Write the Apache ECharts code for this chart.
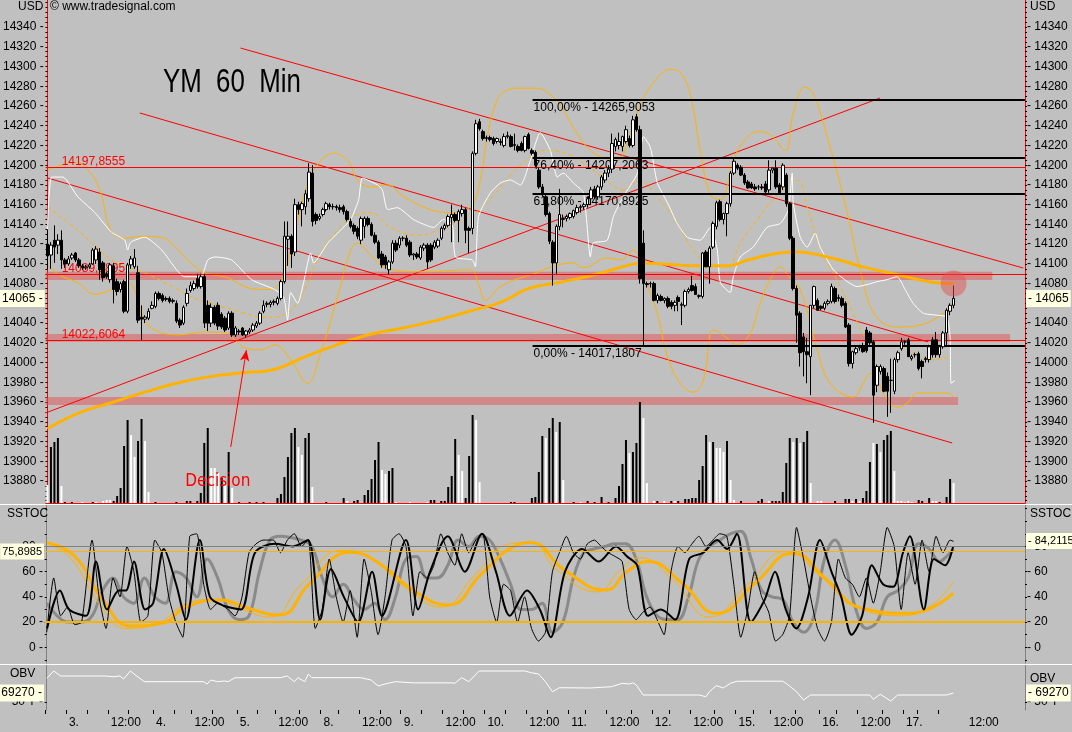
<!DOCTYPE html>
<html><head><meta charset="utf-8">
<script src="https://cdn.jsdelivr.net/npm/echarts@6/dist/echarts.min.js"></script>
<style>html,body{margin:0;padding:0;background:#c0c0c0}#c{width:1072px;height:732px}</style>
</head><body><div id="c"></div>
<script>
// ---------- DATA ----------
const N = 281; // time slots (bars + empty future)
const openP = [14120,14109,14124,14119,14124,14104,14100,14106,14111,14104,
14098,14096,14097,14100,14104,14112,14101,14090,14084,14098,
14082,14074,14082,14052,14099,14097,14091,14046,14044,14045,
14055,14057,14070,14068,14064,14065,14062,14060,14043,14040,
14060,14073,14075,14085,14077,14087,14058,14040,14056,14058,
14049,14045,14035,14050,14028,14032,14035,14028,14031,14033,
14037,14040,14052,14059,14059,14061,14060,14065,14082,14125,
14128,14112,14160,14155,14158,14166,14192,14150,14146,14150,
14155,14160,14158,14158,14157,14158,14153,14143,14139,14136,
14124,14138,14146,14140,14129,14122,14110,14107,14094,14102,
14121,14119,14126,14126,14122,14109,14110,14106,14116,14119,
14119,14117,14118,14126,14136,14139,14147,14150,14144,14151,
14155,14136,14136,14212,14244,14234,14227,14228,14227,14224,
14224,14220,14229,14229,14220,14219,14222,14215,14231,14215,
14213,14195,14178,14168,14151,14122,14101,14138,14145,14146,
14147,14148,14152,14157,14158,14160,14166,14176,14168,14178,
14185,14192,14196,14219,14220,14219,14224,14227,14220,14249,
14236,14121,14080,14080,14080,14063,14067,14063,14065,14061,
14058,14066,14058,14058,14072,14078,14077,14067,14067,14112,
14097,14117,14138,14163,14145,14151,14161,14192,14200,14198,
14190,14183,14181,14178,14178,14178,14181,14175,14195,14197,
14180,14178,14190,14161,14126,14075,14050,14026,14011,14006,
14058,14063,14057,14055,14060,14062,14075,14066,14065,14060,
14038,13999,14010,14015,14016,14033,14030,14021,13977,13991,
13994,13986,13982,13971,14003,14014,14021,14023,14004,14008,
14009,14001,14004,14003,14023,14023,14008,14016,14030,14052,
14058];
const highP = [14135,14122,14139,14130,14134,14106,14108,14111,14112,14106,
14100,14099,14101,14116,14118,14116,14103,14092,14101,14101,
14085,14082,14084,14101,14108,14115,14098,14058,14048,14055,
14062,14072,14072,14070,14067,14067,14065,14063,14045,14058,
14075,14082,14083,14090,14090,14090,14063,14060,14058,14061,
14051,14047,14052,14052,14037,14034,14036,14033,14035,14040,
14042,14052,14063,14062,14063,14064,14067,14084,14143,14143,
14130,14166,14163,14163,14175,14202,14200,14152,14151,14157,
14163,14162,14161,14160,14160,14160,14155,14146,14141,14138,
14148,14148,14148,14142,14132,14124,14113,14109,14104,14124,
14124,14128,14128,14129,14124,14111,14112,14119,14121,14121,
14121,14124,14126,14138,14141,14150,14160,14152,14155,14160,
14157,14138,14214,14246,14247,14236,14230,14230,14229,14228,
14227,14232,14234,14231,14232,14221,14224,14230,14233,14217,
14215,14198,14181,14170,14153,14124,14140,14176,14150,14150,
14152,14155,14160,14160,14162,14168,14178,14179,14180,14190,
14195,14200,14232,14228,14233,14230,14240,14230,14250,14252,
14240,14134,14082,14082,14082,14070,14069,14066,14067,14063,
14063,14068,14061,14074,14076,14088,14080,14069,14112,14114,
14118,14143,14164,14165,14152,14163,14194,14207,14202,14200,
14192,14185,14183,14181,14180,14181,14184,14205,14198,14205,
14182,14202,14192,14163,14128,14078,14052,14030,14025,14058,
14078,14065,14058,14062,14064,14080,14077,14069,14067,14062,
14040,14012,14016,14018,14020,14036,14032,14023,13998,13998,
13996,13990,14004,14005,14012,14025,14023,14025,14008,14010,
14011,14003,14006,14018,14026,14031,14018,14032,14055,14060,
14078];
const lowP = [14095,14095,14101,14110,14095,14096,14098,14104,14102,14096,
14094,14094,14095,14099,14100,14084,14082,14085,14081,14060,
14068,14071,14050,14050,14095,14095,14040,14023,14040,14043,
14054,14055,14063,14061,14062,14060,14060,14040,14035,14038,
14057,14071,14073,14075,14075,14035,14032,14036,14038,14033,
14034,14031,14033,14026,14026,14028,14027,14025,14029,14031,
14035,14038,14050,14056,14056,14058,14058,14063,14080,14098,
14096,14108,14150,14138,14150,14163,14138,14140,14144,14148,
14153,14155,14155,14154,14152,14150,14143,14136,14130,14125,
14120,14126,14138,14128,14120,14105,14096,14095,14089,14100,
14112,14116,14123,14117,14107,14104,14105,14104,14113,14095,
14102,14115,14116,14124,14134,14137,14122,14142,14122,14148,
14121,14111,14130,14210,14235,14225,14224,14224,14220,14222,
14220,14218,14227,14218,14215,14213,14214,14213,14216,14210,
14198,14176,14168,14148,14120,14078,14090,14134,14137,14143,
14145,14146,14150,14152,14155,14157,14160,14166,14165,14175,
14182,14188,14192,14214,14216,14214,14222,14218,14218,14234,
14080,14016,14076,14076,14062,14060,14062,14060,14055,14054,
14052,14052,14038,14056,14070,14072,14069,14065,14065,14097,
14080,14115,14135,14143,14140,14128,14158,14190,14195,14189,
14180,14176,14176,14174,14175,14175,14170,14172,14192,14176,
14170,14175,14158,14124,14073,14020,13996,13986,13979,13967,
14055,14053,14053,14053,14058,14060,14060,14062,14056,14035,
13996,13994,14008,14012,14010,14010,14018,13939,13970,13988,
13970,13945,13949,13968,14000,14012,14018,14006,14002,14005,
13992,13984,14000,14000,14005,14005,14005,14014,14016,14048,
14055];
const closeP = [14108,14119,14117,14124,14104,14100,14105,14109,14104,14098,
14096,14097,14099,14114,14115,14094,14086,14087,14099,14074,
14072,14080,14052,14099,14105,14106,14043,14044,14046,14052,
14058,14070,14065,14063,14065,14062,14063,14042,14038,14056,
14070,14078,14080,14077,14087,14040,14040,14056,14040,14037,
14036,14033,14050,14028,14035,14031,14028,14032,14033,14038,
14040,14050,14058,14060,14061,14062,14065,14082,14128,14128,
14110,14160,14155,14161,14171,14193,14143,14144,14148,14155,
14161,14158,14158,14157,14155,14153,14145,14138,14133,14128,
14146,14146,14140,14129,14122,14106,14099,14099,14102,14121,
14114,14126,14126,14119,14109,14110,14107,14117,14119,14102,
14104,14122,14124,14136,14139,14148,14150,14144,14153,14155,
14134,14134,14212,14242,14237,14227,14228,14226,14222,14227,
14223,14229,14230,14219,14221,14215,14215,14229,14217,14212,
14200,14178,14170,14150,14123,14101,14138,14150,14146,14148,
14151,14154,14157,14158,14160,14166,14175,14168,14178,14188,
14192,14196,14222,14226,14224,14229,14236,14220,14246,14236,
14085,14080,14079,14080,14063,14068,14063,14065,14057,14057,
14061,14062,14059,14072,14074,14073,14069,14068,14111,14097,
14116,14141,14162,14145,14151,14161,14192,14204,14197,14190,
14182,14177,14177,14176,14178,14177,14173,14195,14197,14178,
14172,14200,14161,14126,14075,14048,14010,14011,14008,14058,
14077,14053,14055,14060,14062,14077,14062,14065,14058,14036,
13999,14011,14014,14016,14011,14012,14020,13967,13996,13996,
13971,13971,13982,14003,14010,14021,14021,14006,14006,14008,
13994,13996,14003,14016,14008,14008,14016,14030,14053,14058,
14065];
const volume = [4500,14000,15250,16250,4250,250,0,250,0,0,
250,0,0,250,250,0,500,750,750,500,
1750,3750,14250,20750,17000,11500,15500,21000,15500,2750,
0,250,0,0,0,0,0,250,0,0,
500,500,0,500,2500,15000,18750,8750,8750,7500,
6250,5000,12750,3750,0,250,0,0,250,0,
250,0,250,0,0,0,1250,2250,6500,11500,
17500,18750,14000,12000,16250,17500,4000,0,0,0,
250,0,0,0,0,1250,500,0,500,750,
0,2000,3250,6000,10750,15250,8250,7250,8000,8750,
250,0,0,0,250,0,0,0,0,250,
750,750,0,500,500,4000,6750,16000,12000,8000,
1250,11750,22000,20750,5250,0,0,0,0,0,
0,0,0,250,250,0,0,0,0,1250,
1500,7750,16750,16250,18750,21250,17750,20250,5750,0,
0,250,0,250,0,500,0,250,0,1500,
0,250,0,1250,4250,9750,15750,12500,12750,15000,
25250,21250,5000,0,500,500,0,500,0,500,
500,500,0,1000,1000,1250,1250,5750,9250,17000,
15250,15250,13750,13750,12750,15500,5750,750,0,500,
0,0,0,0,500,1000,0,500,500,500,
500,2750,10000,16250,15250,16250,15000,15250,18000,5000,
0,500,500,0,0,0,500,0,0,1000,
1000,500,1000,500,1250,3000,10250,15000,14750,12750,
15750,17000,18000,8000,500,500,250,500,250,0,
750,500,0,1250,500,500,250,0,1500,6000,
5000];
const volumeColor = ("wbbbwbbbbb"+"wbbbwbwwwb"+"bbbbwwbbww"+"bbbbbbbbbb"+"bbbbbbbwww"+
"bwbwbbbbbb"+"bbbbbbbbbb"+"bbwwbbwbbb"+"bbbbbbwbbb"+"bbbbbbwwbb"+
"wbbbwbbbbw"+"bbbbbbbbww"+"bbbwwbbbbb"+"bbbbbbbbbb"+"bbbwbbwbwb"+
"bbbwbbbbbb"+"bbbbbbbwbb"+"bwwbwbbwbb"+"wbbbbbbbbb"+"wbwwwbwwbb"+
"bbbbbbbwbb"+"bbbbwbwbbw"+"bwwbbbbbbb"+"bwbwbbbwbw"+"bbbwwwwwwb"+
"bbbbwwbbbb"+"w").split('');

// long moving average (thick orange) [bar, price]
const maLong = [[0,13933],[9,13949],[18,13959],[28,13970],[37,13979],[47,13986],[57,13990],[65,13993],
[74,14006],[83,14018],[93,14029],[102,14035],[112,14043],[121,14052],[130,14061],[138,14075],[148,14082],
[157,14089],[167,14099],[171,14101],[176,14100],[186,14098],[195,14098],[201,14104],[210,14111],[215,14112],
[225,14106],[234,14097],[244,14089],[253,14082],[260,14080]];
// Bollinger bands (thin orange) [bar, price]
const bbUpper = [[0,14195],[8.1,14203],[12.4,14192],[15.3,14172],[18.2,14134],[22.2,14126],[27,14128],[32.5,14127],
[35.6,14121],[40.2,14104],[45.1,14091],[51.7,14086],[56.6,14077],[61.7,14074],[65.5,14076],[69.8,14114],[74.1,14175],
[77.8,14202],[82.1,14212],[86.1,14205],[89,14185],[92.7,14178],[97.6,14180],[102.2,14168],[109.9,14155],[115.6,14152],
[121.4,14158],[124.2,14185],[126.2,14229],[128.5,14261],[130.8,14274],[135.7,14278],[140.6,14278],[143.7,14273],
[147.2,14261],[150.9,14238],[155.8,14215],[160.1,14207],[163.5,14205],[166.7,14226],[170.1,14261],[174.4,14286],
[178.7,14297],[181.6,14294],[184.5,14271],[187.3,14215],[190.2,14170],[193.1,14165],[196.8,14205],[200.2,14226],
[203.7,14234],[207.4,14231],[211.7,14215],[214,14253],[217.4,14279],[219.7,14273],[224.6,14218],[229.5,14152],
[233.2,14094],[237.5,14048],[243.8,14036],[250.4,14038],[257,14050],[260.4,14063]];
const bbLower = [[0,14099],[3.8,14088],[8.7,14081],[13.6,14069],[18.4,14074],[23,14081],[27.9,14043],[30.8,14033],
[37.4,14028],[45.1,14031],[51.7,14030],[53.7,14023],[57.4,14014],[61.4,14013],[65.2,14018],[69.8,14003],[74.6,13979],
[78.4,14010],[83.2,14066],[87,14114],[89,14121],[92.7,14109],[97,14096],[107,14092],[121.4,14094],[123.7,14079],
[125.7,14063],[130,14077],[138.6,14089],[150.9,14101],[153.8,14096],[160.6,14106],[164.4,14104],[168.1,14114],
[171.5,14084],[175,14050],[177.9,14006],[181.6,13979],[185.3,13970],[188.2,13982],[190.2,14030],[191.1,14033],
[194.5,14026],[197.9,14018],[201.7,14030],[204.5,14060],[207.4,14084],[210.3,14097],[212.3,14089],[216,14074],
[220.9,14013],[224.6,13979],[231.2,13965],[234.1,13979],[236.1,13989],[238.1,13982],[241,13962],[243.8,13955],
[246.7,13959],[249.6,13969],[254.1,13969],[258.1,13969],[260.4,13964]];
const bbMiddle = [[0,14158],[8.7,14134],[18.4,14104],[23,14097],[27.9,14091],[37.4,14074],[42.2,14065],[47.1,14060],
[51.7,14055],[56.6,14050],[61.4,14046],[65.2,14046],[69.8,14053],[73.5,14072],[78.4,14111],[83.2,14134],[87.8,14148],
[92.7,14152],[97.6,14139],[102.2,14131],[107,14129],[111.9,14134],[116.5,14141],[121.4,14148],[126.2,14162],
[130,14178],[135.7,14200],[142.9,14215],[150,14210],[158.6,14190],[165.2,14175],[170.1,14185],[174.4,14170],
[179.6,14148],[185.3,14114],[190.2,14099],[195.1,14097],[198.8,14121],[203.7,14145],[208.3,14165],[215.1,14185],
[218,14158],[221.7,14117],[227.5,14077],[231.2,14050],[235.2,14023],[238.9,14016],[244.7,14016],[250.4,14006],
[254.1,14003],[259,14006]];
// fast band (white) [bar, price]
const whiteBand = [[0,14134],[1.2,14188],[4.4,14188],[8.7,14168],[13.6,14152],[18.4,14132],[22.2,14124],[23,14114],
[23.9,14122],[27.9,14127],[32.8,14114],[39.4,14087],[44,14087],[46,14104],[48,14107],[52.8,14104],[58.6,14084],
[65.2,14074],[67.8,14066],[68.9,14043],[69.8,14071],[71.8,14060],[73.5,14081],[75.5,14111],[76.4,14101],[80.4,14121],
[83.2,14131],[87,14145],[89.3,14165],[90.4,14187],[94.7,14180],[96.1,14175],[97.6,14155],[100.4,14157],[105,14145],
[110.8,14137],[113.6,14145],[116.2,14139],[117.1,14107],[121.9,14104],[122.8,14097],[123.7,14148],[127.1,14172],
[130,14182],[132.8,14185],[135.7,14180],[138.6,14205],[141.4,14233],[144.3,14215],[146.3,14188],[148,14192],
[150.9,14182],[153.8,14172],[155.8,14107],[156.6,14121],[160.6,14124],[162.4,14148],[165.2,14168],[169.3,14192],
[171,14229],[173,14218],[175,14182],[177.9,14162],[180.7,14141],[183.6,14127],[187.3,14124],[190.2,14137],
[192.2,14114],[193.1,14081],[195.9,14071],[196.8,14087],[198.8,14107],[202.5,14117],[206.5,14137],[210.3,14141],
[212.6,14155],[213.7,14192],[214,14162],[216,14127],[218,14117],[220.3,14131],[221.7,14117],[225.5,14094],
[229.5,14082],[232.3,14077],[235.2,14079],[238.1,14082],[240.9,14084],[243.8,14087],[246.1,14074],[248.4,14060],
[251.3,14050],[255.3,14048],[258.1,14046],[259,14026],[259.3,13979],[260.4,13982]];

// annotations (bar index, price)
const hLines = [14197.8555, 14089.1895, 14022.6064];
const hLineText = ['14197,8555', '14089,1895', '14022,6064'];
const fibStart = 139.2;
const fibLevels = [14265.9053, 14207.2063, 14170.8925, 14017.1807];
const fibText = ['100,00% - 14265,9053', '76,40% - 14207,2063', '61,80% - 14170,8925', '0,00% - 14017,1807'];
const zones = [[14083.7, 14092.1, 271.1], [14021.0, 14029.0, 276.2], [13957.0, 13965.0, 261.3]];
const trendLines = [
  [[55.4, 14318.7], [280.0, 14095.8]],
  [[26.5, 14252.9], [252.7, 14020.9]],
  [[0.07, 14187.0], [259.6, 13918.5]],
  [[-0.5, 13949.0], [238.9, 14268.1]]
];
const decisionArrow = [[52.6, 13914.5], [57.1, 14012.7]];
const decisionText = [48.9, 13879];
const lastPriceMark = [260, 14080];
const lastPrice = 14065;

// stochastic panel [bar, value]
const stochFast = [[0,12],[2,55],[4,25],[6,32],[8,18],[10,20],[13,85],[15,40],[17,15],[19,55],[21,40],[23,80],[25,60],
[27,20],[29,25],[31,85],[33,75],[35,40],[37,20],[39,8],[41,88],[43,90],[45,50],[47,30],[49,35],[52,30],[54,25],[56,40],
[58,75],[60,82],[62,85],[65,85],[67,75],[69,85],[71,90],[73,80],[75,85],[77,15],[79,30],[81,70],[83,40],[85,20],[87,45],
[89,8],[91,70],[93,45],[95,10],[97,40],[99,85],[101,90],[103,80],[105,25],[107,60],[109,55],[111,65],[113,90],[115,75],
[117,65],[119,90],[121,75],[123,85],[125,90],[127,40],[129,20],[131,50],[133,45],[135,20],[137,40],[139,15],[141,5],
[143,12],[145,60],[147,75],[149,88],[151,75],[153,70],[155,82],[157,85],[159,80],[161,75],[163,72],[165,68],[167,30],
[169,22],[171,28],[173,32],[175,22],[177,10],[179,60],[181,80],[183,75],[185,82],[187,88],[189,80],[191,85],[193,90],
[195,88],[197,50],[199,8],[201,30],[203,60],[205,40],[207,28],[209,5],[211,10],[213,25],[215,95],[217,70],[219,40],
[221,15],[223,5],[225,20],[227,70],[229,55],[231,50],[233,40],[235,55],[237,35],[239,60],[241,95],[243,80],[245,30],
[247,75],[249,50],[251,85],[253,60],[255,88],[257,75],[259,85],[260,84]];
const stochSlow = [[0.1,15],[3.8,45],[6.4,30],[11.3,25],[14.1,68],[17.3,30],[20.7,45],[22.7,45],[25,68],[28.2,30],
[30.5,35],[33.6,78],[37.1,50],[39.9,22],[43.9,85],[46.8,40],[50.8,33],[55.7,30],[59.7,75],[65.5,82],[70.6,80],[74.9,85],
[78.4,22],[81.5,62],[85.2,40],[89.3,20],[93.3,60],[96.1,25],[103,85],[106.5,30],[109.9,60],[115,88],[119.9,60],[124.8,90],
[128.8,60],[132.8,25],[137.7,45],[141.4,30],[144.5,8],[148.6,60],[153.5,78],[158.3,68],[163.2,80],[166.4,72],[169.3,65],
[172.4,25],[176.1,30],[180.2,22],[184.2,70],[188.2,75],[192.2,85],[195.1,78],[197.9,90],[201.9,20],[205.9,38],[208.8,60],
[211.9,30],[214.9,15],[218.3,40],[221.7,85],[225,60],[227.8,40],[230.8,10],[233.8,25],[236.6,65],[239.8,50],[242.7,48],
[245.5,75],[247.5,88],[251.5,30],[254.4,70],[257.6,65],[259.9,80]];
const stochGray = [[0,35],[3,25],[6,20],[10,20],[13,25],[16,45],[19,55],[22,40],[25,35],[28,55],[31,40],[34,35],[37,60],
[40,55],[43,40],[46,70],[49,55],[52,30],[55,22],[58,25],[61,60],[64,85],[67,88],[70,87],[73,85],[76,80],[79,55],[82,40],
[85,50],[88,38],[91,30],[94,35],[97,22],[100,40],[103,70],[106,72],[109,55],[112,55],[115,65],[118,85],[121,80],[124,88],
[127,85],[130,70],[133,50],[136,30],[139,30],[142,35],[145,12],[148,20],[151,55],[154,75],[157,78],[160,80],[163,82],
[166,82],[169,70],[172,40],[175,25],[178,22],[181,22],[184,40],[187,70],[190,80],[193,85],[196,90],[199,92],[202,70],
[205,45],[208,40],[211,38],[214,20],[217,12],[220,25],[223,70],[226,85],[229,65],[232,30],[235,15],[238,20],[241,40],
[244,45],[247,55],[250,82],[253,78],[256,68],[258,72],[260,78]];
const cycleSlow = [[0.1,83],[8.1,72],[16.1,37.5],[24.2,17],[33,19],[40,32],[49.7,37.5],[57.7,31],[66.6,25.6],[75.5,50.8],
[87.2,75.3],[95.3,66.6],[105,45.5],[115.1,33.6],[124.8,58.7],[134.8,81],[138.6,83],[148.6,61],[160.4,45.5],[166.4,60],
[172.3,68],[182.2,50.8],[192.1,27],[203.1,50.8],[213.9,74.5],[223.7,53.4],[233.8,31],[247.5,27],[259.9,43]];
const cycleFast = [[0,82],[7,70],[15,35],[23,15],[32,19],[39,33],[48,38],[56,30],[64,24],[73,50],[85,77],[93,70],[103,47],
[113,32],[123,58],[133,82],[139,83],[146,62],[158,44],[164,60],[170,71],[180,52],[190,24],[201,50],[212,76],[222,56],
[232,32],[246,25],[260,52]];
const stochLevels = [80, 20];
const stochBand = [75.8985, 20.5];
const stochLastLeft = 75.8985, stochLastRight = 84.2115;

// on balance volume [bar, value]
const obv = [[0,100700],[2,116400],[4,105700],[17,105700],[19,104000],[21,105700],[22,99200],[24,116400],[25,110000],
[28,93500],[45,93500],[46,88500],[47,97100],[49,93500],[51,95000],[52,93500],[54,102000],[67,102000],[69,105700],
[71,93500],[72,102000],[74,93500],[75,110000],[76,102000],[90,102000],[93,97100],[95,84300],[97,88500],[100,93500],
[105,91000],[116,91000],[117,90000],[119,102000],[121,93500],[124,116400],[137,116400],[139,112700],[141,110000],
[143,93500],[145,72000],[147,80600],[156,80000],[162,82800],[165,90000],[167,88500],[168,91000],[169,87000],
[171,65000],[187,65000],[189,61300],[190,72000],[192,85000],[194,80000],[196,90000],[198,94500],[211,94500],
[212,90000],[215,72000],[217,54300],[219,65000],[236,65000],[237,55800],[239,66500],[242,52100],[244,65000],
[258,65000],[260,69270]];
const obvLast = 69270;

// time axis
const timeLabelBars = [6,18,31,42,55,66,79,90,102,114,126,138,150,161,174,185,198,208,222,233,246,264];
const timeLabelText = ['3.','12:00','4.','12:00','5.','12:00','8.','12:00','9.','12:00','10.','12:00','11.','12:00',
  '12.','12:00','15.','12:00','16.','12:00','17.','12:00'];
const timeTickBars = [0,6,12,18,24,31,37,42,48,55,61,66,73,79,84,90,96,102,108,114,120,126,132,138,144,150,155,161,
  168,174,179,185,192,198,203,208,215,222,227,233,240,246,250,256];
const priceLabels = []; for (let v = 13880; v <= 14340; v += 20) priceLabels.push(v);
const priceTicks = []; for (let v = 13860; v <= 14365; v += 5) priceTicks.push(v);

// ---------- CHART ----------
const FONT = 'Liberation Sans, Arial, sans-serif';
const RED = '#ff0000', ORANGE = '#ffb300', GRAYL = '#808080';
const CLEAR = 'rgba(0,0,0,0)';
const X0 = -0.5, X1 = N - 0.5;
const cats = Array.from({length: N}, (_, i) => i);
const candles = openP.map((o, i) => [o, closeP[i], lowP[i], highP[i]]);
const volBars = volume.map((v, i) => ({value: v, itemStyle: {color: volumeColor[i] === 'w' ? '#ffffff' : '#000000'}}));
const labelMap = {}; timeLabelBars.forEach((b, k) => labelMap[b - 0.5] = timeLabelText[k]);

function priceAxis(pos) {
  return {
    type: 'value', gridIndex: 0, position: pos, min: 13857.7, max: 14367.4, scale: true,
    axisLine: {show: true, lineStyle: {color: RED, width: 1}},
    axisTick: {show: true, customValues: priceTicks, length: 2, inside: false, lineStyle: {color: '#000'}},
    axisLabel: {customValues: priceLabels, margin: 2, color: '#000', fontFamily: FONT, fontSize: 12,
      formatter: v => pos === 'left' ? v + ' -' : '- ' + v},
    splitLine: {show: false}
  };
}
function stochAxis(pos) {
  return {
    type: 'value', gridIndex: 1, position: pos, min: -12.4, max: 112.8,
    axisLine: {show: true, lineStyle: {color: GRAYL}},
    axisTick: {show: true, customValues: [-10,0,10,20,30,40,50,60,70,80,90,100,110], length: 2, lineStyle: {color: '#000'}},
    axisLabel: {customValues: [0,20,40,60,80], margin: 2, color: '#000', fontFamily: FONT, fontSize: 12,
      formatter: v => pos === 'left' ? v + ' -' : '- ' + v},
    splitLine: {show: false}
  };
}
function obvAxis(pos) {
  return {
    type: 'value', gridIndex: 2, position: pos, min: 32870, max: 129220,
    axisLine: {show: true, lineStyle: {color: GRAYL}},
    axisTick: {show: true, customValues: [50000], length: 2, lineStyle: {color: '#000'}},
    axisLabel: {customValues: [50000], margin: 2, color: '#000', fontFamily: FONT, fontSize: 12,
      formatter: () => pos === 'left' ? '50 T -' : '- 50 T'},
    splitLine: {show: false}
  };
}
function lineS(data, color, width, xi, yi, opts) {
  return Object.assign({type: 'line', xAxisIndex: xi, yAxisIndex: yi, data: data, showSymbol: false, symbol: 'none',
    smooth: false, lineStyle: {color: color, width: width}, silent: true, z: 3, animation: false}, opts || {});
}
const boxLabel = {color: '#000', backgroundColor: '#ffffe1', fontFamily: FONT, fontSize: 12, padding: [3, 2, 2, 2]};
const hiddenLine = {color: CLEAR, width: 1, type: 'solid'};
function boxMark(value, side, text, size) {
  return {yAxis: value, lineStyle: hiddenLine,
    label: Object.assign({}, boxLabel, {show: true, position: side, distance: 1, formatter: text, fontSize: size || 12})};
}

const series = [];
// annotations layer
series.push({
  type: 'line', xAxisIndex: 1, yAxisIndex: 0, data: [], z: 2, silent: true,
  markArea: {silent: true, data: zones.map(z => [
    {coord: [X0, z[0]], itemStyle: {color: 'rgba(228,80,80,0.5)'}}, {coord: [z[2], z[1]]}])},
  markLine: {silent: true, symbol: ['none', 'none'], animation: false, data: [].concat(
    hLines.map((v, k) => ({yAxis: v, lineStyle: {color: RED, width: 1, type: 'solid'},
      label: {show: true, position: 'insideStartTop', formatter: hLineText[k], color: RED, fontFamily: FONT, fontSize: 12, distance: [16, 0]}})),
    fibLevels.map((v, k) => [
      {coord: [fibStart, v], lineStyle: {color: '#000', width: 2, type: 'solid'},
       label: {show: true, position: 'insideStartBottom', formatter: fibText[k], color: '#000', fontFamily: FONT, fontSize: 12, distance: [1, 2]}},
      {coord: [X1, v]}]),
    [[{coord: decisionArrow[0], symbol: 'none', lineStyle: {color: RED, width: 1, type: 'solid'}, label: {show: false}},
      {coord: decisionArrow[1], symbol: 'arrow', symbolSize: [7, 11]}]]
  )},
  markPoint: {silent: true, animation: false, data: [
    {coord: decisionText, symbol: 'rect', symbolSize: 2, itemStyle: {color: CLEAR},
     label: {show: true, position: 'inside', formatter: 'Decision', color: RED, fontSize: 17,
       fontFamily: 'Liberation Sans Narrow, DejaVu Sans Condensed, Liberation Sans, sans-serif'}}]}
});
trendLines.forEach(t => series.push(lineS(t, RED, 1, 1, 0, {z: 2})));
// volume
series.push({type: 'bar', xAxisIndex: 0, yAxisIndex: 2, data: volBars, barWidth: 2, z: 3, silent: true, animation: false});
// indicators on price
series.push(lineS(maLong, ORANGE, 3, 1, 0, {smooth: 0.4, z: 4}));
series.push(lineS(bbUpper, ORANGE, 1, 1, 0, {smooth: 0.4}));
series.push(lineS(bbLower, ORANGE, 1, 1, 0, {smooth: 0.4}));
series.push(lineS(bbMiddle, ORANGE, 1, 1, 0, {smooth: 0.4, lineStyle: {color: ORANGE, width: 1, type: [4, 3]}}));
series.push(lineS(whiteBand, '#ffffff', 1, 1, 0, {smooth: 0.2}));
// candles
series.push({type: 'candlestick', xAxisIndex: 0, yAxisIndex: 0, data: candles, barWidth: 3, z: 5, silent: true, animation: false,
  itemStyle: {color: '#ffffff', color0: '#000000', borderColor: '#000000', borderColor0: '#000000', borderWidth: 1}});
// last price mark + price boxes
series.push({type: 'scatter', xAxisIndex: 1, yAxisIndex: 0, data: [lastPriceMark], symbolSize: 26, z: 6, silent: true,
  itemStyle: {color: 'rgba(226,80,80,0.62)'}, animation: false,
  markLine: {silent: true, symbol: ['none', 'none'], animation: false, data: [
    boxMark(lastPrice, 'start', lastPrice + ' -'), boxMark(lastPrice, 'end', '- ' + lastPrice)]}});
// stochastic
series.push({type: 'line', xAxisIndex: 2, yAxisIndex: 3, data: [], silent: true, z: 2,
  markLine: {silent: true, symbol: ['none', 'none'], animation: false, data: [
    {yAxis: stochLevels[0], lineStyle: {color: GRAYL, width: 1, type: 'solid'}, label: {show: false}},
    {yAxis: stochLevels[1], lineStyle: {color: GRAYL, width: 1, type: 'solid'}, label: {show: false}},
    {yAxis: stochBand[0], lineStyle: {color: ORANGE, width: 1, type: 'solid'}, label: {show: false}},
    {yAxis: stochBand[1], lineStyle: {color: ORANGE, width: 2, type: 'solid'}, label: {show: false}}
  ]}});
series.push(lineS(stochGray, '#8a8a8a', 3, 2, 3, {smooth: 0.4}));
series.push(lineS(cycleFast, ORANGE, 1, 2, 3, {smooth: 0.5}));
series.push(lineS(cycleSlow, ORANGE, 3, 2, 3, {smooth: 0.5}));
series.push(lineS(stochFast, '#000', 1, 2, 3, {smooth: 0.2}));
series.push(lineS(stochSlow, '#000', 2, 2, 3, {smooth: 0.3, z: 4,
  markLine: {silent: true, symbol: ['none', 'none'], animation: false, data: [
    boxMark(stochLastLeft, 'start', String(stochLastLeft).replace('.', ','), 11),
    boxMark(stochLastRight, 'end', '- ' + String(stochLastRight).replace('.', ','), 11)]}}));
// OBV
series.push(lineS(obv, '#ffffff', 1, 3, 5, {markLine: {silent: true, symbol: ['none', 'none'], animation: false, data: [
  boxMark(obvLast, 'start', obvLast + ' -'), boxMark(obvLast, 'end', '- ' + obvLast)]}}));

const txt = (t, x, y, size) => ({type: 'text', x: x, y: y, silent: true, z: 100,
  style: {text: t, fill: '#000', font: size + 'px ' + FONT}});

const option = {
  backgroundColor: '#c0c0c0',
  animation: false,
  grid: [
    {left: 45, top: 0, width: 980, height: 503, show: false},
    {left: 45, top: 505, width: 980, height: 158, show: false},
    {left: 45, top: 665, width: 980, height: 45, show: false}
  ],
  xAxis: [
    {type: 'category', gridIndex: 0, data: cats, boundaryGap: true, axisLine: {show: true, lineStyle: {color: RED}},
     axisTick: {show: false}, axisLabel: {show: false}, splitLine: {show: false}},
    {type: 'value', gridIndex: 0, min: X0, max: X1, show: false},
    {type: 'value', gridIndex: 1, min: X0, max: X1, show: false},
    {type: 'value', gridIndex: 2, min: X0, max: X1, position: 'bottom',
     axisLine: {show: false},
     axisTick: {show: true, customValues: timeTickBars.map(b => b - 0.5), length: 4, lineStyle: {color: '#000'}},
     axisLabel: {customValues: timeLabelBars.map(b => b - 0.5), formatter: v => labelMap[v] || '', align: 'left',
       margin: 7, padding: [0, 0, 0, 3], color: '#000', fontFamily: FONT, fontSize: 12},
     splitLine: {show: false}}
  ],
  yAxis: [
    priceAxis('left'), priceAxis('right'),
    {type: 'value', gridIndex: 0, min: 0, max: 125750, show: false},
    stochAxis('left'), stochAxis('right'),
    obvAxis('left'), obvAxis('right')
  ],
  series: series,
  graphic: [
    {type: 'line', silent: true, z: 50, shape: {x1: 0, y1: 504.5, x2: 1072, y2: 504.5}, style: {stroke: '#ffffff', lineWidth: 1}},
    {type: 'line', silent: true, z: 50, shape: {x1: 0, y1: 664.5, x2: 1072, y2: 664.5}, style: {stroke: '#ffffff', lineWidth: 1}},
    txt('USD', 18, 1, 12), txt('USD', 1030, 1, 12),
    txt('\u00a9 www.tradesignal.com', 50, 1, 12),
    txt('SSTOC', 7, 508, 12), txt('SSTOC', 1030, 508, 12),
    txt('OBV', 10, 668, 12), txt('OBV', 1030, 673, 12),
    {type: 'text', x: 163, y: 66, scaleX: 0.76, silent: true, z: 100,
     style: {text: 'YM  60  Min', fill: '#000', font: '34px "Liberation Sans Narrow", "Liberation Sans", sans-serif'}}
  ]
};
const chart = echarts.init(document.getElementById('c'), null, {width: 1072, height: 732});
chart.setOption(option);
</script></body></html>
